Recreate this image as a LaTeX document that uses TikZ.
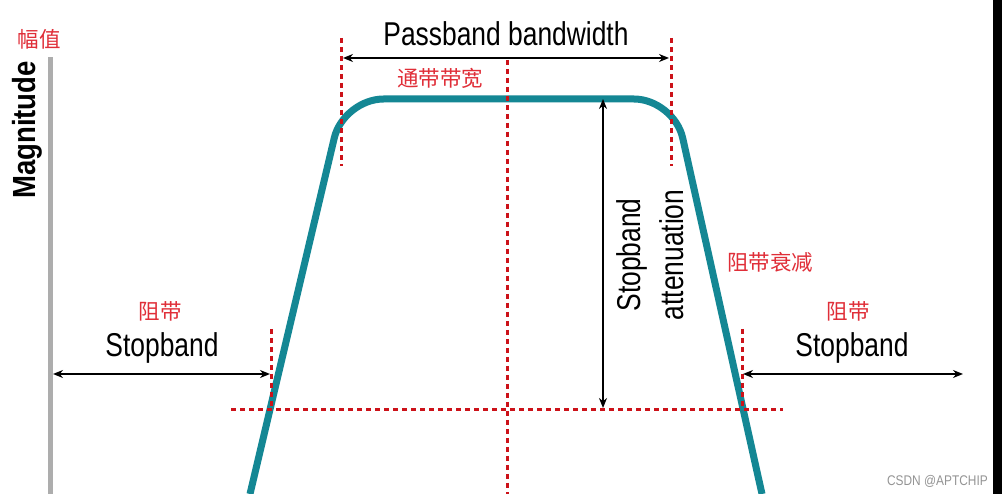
\documentclass[tikz,border=0pt]{standalone}
\usepackage{fontspec}
\setmainfont{Liberation Sans}
\newfontfamily\cjk{Noto Sans CJK SC}
\usetikzlibrary{arrows.meta}
\definecolor{Teal}{rgb}{0.08, 0.53, 0.58}
\definecolor{DotRed}{rgb}{0.80, 0.07, 0.10}
\definecolor{LabelRed}{rgb}{0.88, 0.18, 0.22}
\definecolor{AxisGray}{rgb}{0.68, 0.68, 0.68}
\definecolor{Mark50}{rgb}{0.58, 0.58, 0.58}
\newcommand{\narrow}[1]{\scalebox{0.8}[1]{#1}}

\begin{document}
\begin{tikzpicture}[
  x=1pt, y=-1pt,
  every node/.style={inner sep=0pt},
  response/.style={draw=Teal, line width=7pt, line join=round},
  guide/.style={draw=DotRed, line width=3pt, dash pattern=on 5pt off 4pt},
  dimarrow/.style={{Stealth[length=10pt,width=8pt]}-{Stealth[length=10pt,width=8pt]}, line width=1.8pt},
  entext/.style={font=\fontsize{33}{43}\selectfont},
  cntext/.style={text=LabelRed, font=\cjk\fontsize{21.5}{21.5}\selectfont}
]

% Canvas (pixel units, y downwards)
\fill[white] (0,0) rectangle (1002,494);
\useasboundingbox (0,0) rectangle (1002,494);
\fill[black] (993,0) rectangle (1002,494);

\def\ytop{99}   % passband level
\def\ystop{410} % stopband level
\def\xmid{507}  % centre frequency

% ============================================================
% Axis
% ============================================================
\fill[AxisGray] (48,57) rectangle (53,494);
\node[cntext] (magcn) at (39,39) {幅值};
\node[font=\bfseries\fontsize{32}{32}\selectfont, rotate=90, anchor=base]
  (magen) at (35,130) {\scalebox{0.86}[1]{Magnitude}};

% ============================================================
% Filter response
% ============================================================
\draw[response, rounded corners=40pt] (250,494) -- (343.5,\ytop)
  -- (674,\ytop) -- (762,494);

% Dotted guides
\draw[guide] (341,38) -- (341,166);
\draw[guide] (671,38) -- (671,166);
\draw[guide] (\xmid,60) -- (\xmid,494);
\draw[guide] (271,329) -- (271,\ystop);
\draw[guide] (742,329) -- (742,\ystop);
\draw[guide] (231,\ystop) -- (783,\ystop);

% ============================================================
% Dimension arrows
% ============================================================
\coordinate (pbl) at (343,58);
\coordinate (pbr) at (669,58);
\coordinate (atttop) at (603,\ytop);
\coordinate (attbot) at (603,408);
\coordinate (sbll) at (53,374);
\coordinate (sblr) at (270,374);
\coordinate (sbrl) at (743,374);
\coordinate (sbrr) at (963,374);

\draw[dimarrow] (pbl) -- (pbr);
\draw[dimarrow] (atttop) -- (attbot);
\draw[dimarrow] (sbll) -- (sblr);
\draw[dimarrow] (sbrl) -- (sbrr);

% ============================================================
% Labels
% ============================================================
\node[entext, anchor=base] (pbtext) at (506,46) {\narrow{Passband bandwidth}};
\node[cntext] (pbcn) at (440,78) {通带带宽};

\node[entext, rotate=90, align=center] (atttext) at (650,255)
  {\narrow{Stopband}\\\narrow{attenuation}};
\node[cntext] (attcn) at (770,262) {阻带衰减};

\node[cntext] (sblcn) at (160,311) {阻带};
\node[entext, anchor=base] (sbltext) at (162,357) {\narrow{Stopband}};
\node[cntext] (sbrcn) at (848,311) {阻带};
\node[entext, anchor=base] (sbrtext) at (852,357) {\narrow{Stopband}};

\node[text=Mark50, font=\fontsize{14}{14}\selectfont, anchor=base east]
  (mark) at (988,485) {\scalebox{0.85}[1]{CSDN @APTCHIP}};

\end{tikzpicture}
\end{document}
